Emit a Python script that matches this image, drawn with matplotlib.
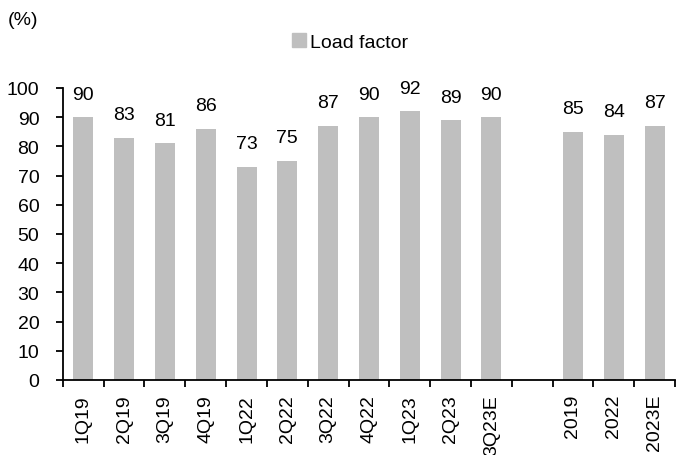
import matplotlib.pyplot as plt
import matplotlib as mpl
from matplotlib.patches import Patch

mpl.rcParams['font.family'] = ['Liberation Sans', 'DejaVu Sans']

# Data
categories = ['1Q19', '2Q19', '3Q19', '4Q19', '1Q22', '2Q22', '3Q22', '4Q22',
              '1Q23', '2Q23', '3Q23E', '', '2019', '2022', '2023E']
load_factor = [90, 83, 81, 86, 73, 75, 87, 90, 92, 89, 90, None, 85, 84, 87]
bar_color = '#BFBFBF'

fig = plt.figure(figsize=(6.76, 4.56), dpi=100)
ax = fig.add_axes([0.093, 0.1645, 0.9055, 0.6405])

xs = list(range(len(categories)))
for x, v in zip(xs, load_factor):
    if v is None:
        continue
    ax.bar(x, v, width=0.49, color=bar_color)
    ax.annotate(f'{v}', (x, v), xytext=(0, 23), textcoords='offset pixels',
                ha='center', va='center', fontsize=14)

ax.set_xlim(-0.5, len(categories) - 0.5)
ax.set_ylim(0, 100)
ax.set_yticks(range(0, 101, 10))
ax.tick_params(axis='y', labelsize=14, length=5, width=1.3, direction='out', pad=12)

# ticks at category boundaries, labels centered
ax.set_xticks([i - 0.5 for i in range(len(categories) + 1)])
ax.set_xticklabels([])
ax.set_xticks(xs, minor=True)
ax.set_xticklabels(categories, minor=True, rotation=90, fontsize=14)
ax.tick_params(axis='x', which='major', length=5, width=1.3, direction='out')
ax.tick_params(axis='x', which='minor', length=0, pad=10)

for s in ['top', 'right']:
    ax.spines[s].set_visible(False)
for s in ['left', 'bottom']:
    ax.spines[s].set_linewidth(1.3)

fig.text(0.012, 0.955, '(%)', fontsize=14, va='center', ha='left')
fig.legend(handles=[Patch(color=bar_color, label='Load factor')],
           loc='center', bbox_to_anchor=(0.518, 0.906), frameon=False,
           fontsize=14, handlelength=0.75, handleheight=0.75, handletextpad=0.2)

plt.savefig('out.png', dpi=100)
plt.close()
